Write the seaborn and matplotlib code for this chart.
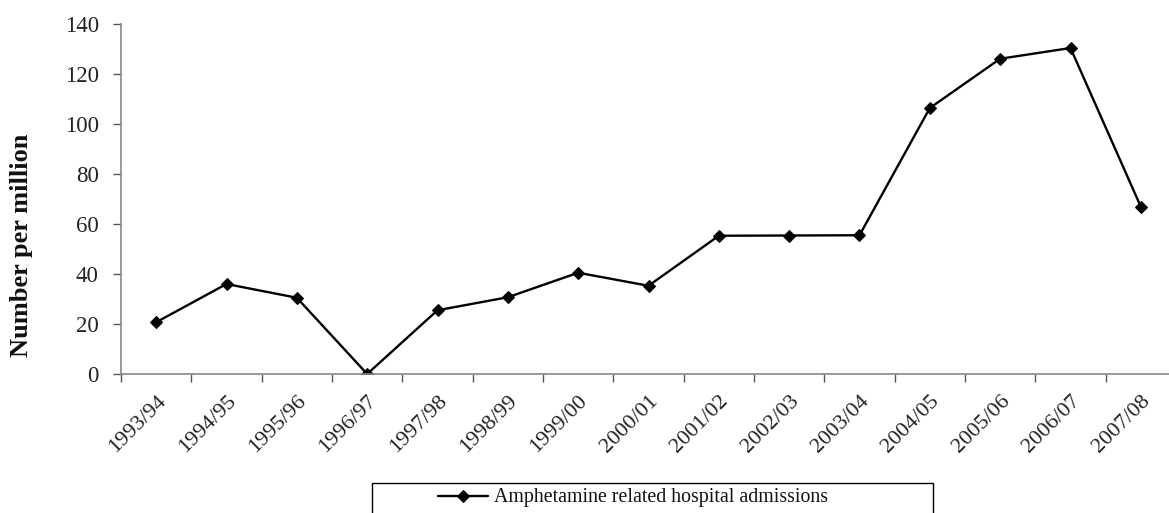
import matplotlib
matplotlib.use("Agg")
import matplotlib.pyplot as plt
from matplotlib.patches import Rectangle
from matplotlib.ticker import FixedLocator, MultipleLocator
import seaborn as sns
import pandas as pd

years = ["1993/94", "1994/95", "1995/96", "1996/97", "1997/98", "1998/99",
         "1999/00", "2000/01", "2001/02", "2002/03", "2003/04", "2004/05",
         "2005/06", "2006/07", "2007/08"]
admissions = [20.7, 36.0, 30.5, 0.0, 25.5, 30.7, 40.5, 35.3, 55.3, 55.4,
              55.5, 106.4, 126.1, 130.4, 66.9]
series_name = "Amphetamine related hospital admissions"

df = pd.DataFrame({"year": years, "value": admissions, "series": series_name})

sns.set_style("white")
plt.rcParams["font.family"] = ["Liberation Serif", "DejaVu Serif"]

W, H = 1169, 513
fig = plt.figure(figsize=(W / 100, H / 100), dpi=100)
ax = fig.add_axes([121 / W, 1 - 374 / H, (1176 - 121) / W, (374 - 24) / H])

sns.lineplot(data=df, x="year", y="value", hue="series", palette=["black"],
             marker="D", markersize=6.5, linewidth=1.7, sort=False, ax=ax,
             markeredgecolor="black", legend=True)

ax.set_xlim(-0.5, len(years) - 0.5)
ax.set_ylim(0, 140)
ax.yaxis.set_major_locator(MultipleLocator(20))
ax.set_xticks(range(len(years)))
ax.set_xticklabels(years, rotation=45, ha="right", rotation_mode="anchor")
ax.xaxis.set_minor_locator(FixedLocator([i - 0.5 for i in range(len(years) + 1)]))
ax.tick_params(axis="x", which="major", length=0, pad=13, labelsize=16, colors="#222222")
ax.tick_params(axis="x", which="minor", length=6, width=1, color="#555555", direction="out", bottom=True)
ax.tick_params(axis="y", which="major", length=6, width=1, color="#555555", direction="out",
               left=True, labelsize=16.5, pad=10)
ax.tick_params(axis="y", colors="#555555", labelcolor="#222222")

for s in ["top", "right"]:
    ax.spines[s].set_visible(False)
for s in ["left", "bottom"]:
    ax.spines[s].set_color("#888888")
    ax.spines[s].set_linewidth(1.2)

ax.set_xlabel("")
ax.set_ylabel("Number per million", fontsize=19, fontweight="bold", color="#111111")
ax.yaxis.set_label_coords(-88 / (1176 - 121), (374 - 245) / 350)

handles, labels = ax.get_legend_handles_labels()
ax.get_legend().remove()
fig.patches.append(Rectangle((372 / W, -0.05), (933 - 372) / W, 0.05 + 1 - 483 / H,
                             transform=fig.transFigure, fill=False, edgecolor="black",
                             linewidth=1.0))
fig.legend(handles, labels, loc="center", bbox_to_anchor=(633 / W, 1 - 498 / H),
           frameon=False, fontsize=14.3, handlelength=2.5, handletextpad=0.3,
           labelcolor="#111111")

fig.savefig("out.png", dpi=100)
